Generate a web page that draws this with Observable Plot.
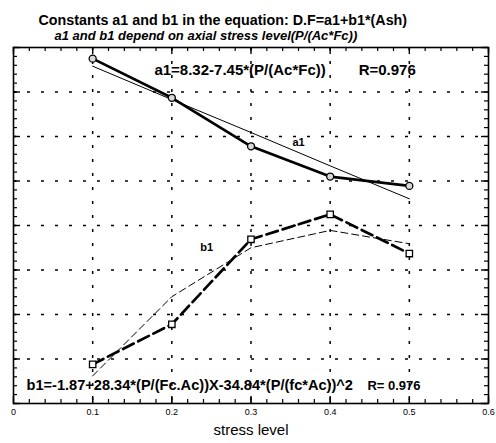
<!DOCTYPE html>
<html>
<head>
<meta charset="utf-8">
<script src="https://cdn.jsdelivr.net/npm/d3@7"></script>
<script src="https://cdn.jsdelivr.net/npm/@observablehq/plot@0.6"></script>
<style>
  html, body { margin: 0; padding: 0; background: #fff; }
  svg { font-family: "Liberation Sans", Arial, Helvetica, sans-serif; }
</style>
</head>
<body>
<div id="chart"></div>
<script>
// ---- data ----
const stress = [0.1, 0.2, 0.3, 0.4, 0.5];
const a1Data = [7.75, 6.87, 5.78, 5.10, 4.89];
const a1Fit  = [7.58, 6.83, 6.09, 5.34, 4.60];
const b1Data = [0.88, 1.78, 3.69, 4.25, 3.37];
const b1Fit  = [0.62, 2.40, 3.50, 3.89, 3.59];
const xTickLabels = [0, 0.1, 0.2, 0.3, 0.4, 0.5, 0.6];
const xGrid = [0.1, 0.2, 0.3, 0.4, 0.5];
const yGrid = [1, 2, 3, 4, 5, 6, 7];
const titleText = "Constants a1 and b1 in the equation: D.F=a1+b1*(Ash)";
const subtitleText = "a1 and b1 depend on axial stress level(P/(Ac*Fc))";
const a1Eq = "a1=8.32-7.45*(P/(Ac*Fc))";
const a1R = "R=0.976";
const b1Eq = "b1=-1.87+28.34*(P/(Fc.Ac))X-34.84*(P/(fc*Ac))^2";
const b1R = "R= 0.976";
const xLabel = "stress level";

const rows = (ys) => stress.map((x, i) => ({x, y: ys[i]}));
const xMinor = d3.range(0, 0.6001, 0.02).map(v => +v.toFixed(2));
const xMajor = xTickLabels;
const yMinor = d3.range(0, 8.001, 0.2).map(v => +v.toFixed(1));
const yMajor = d3.range(0, 9, 1);

const W = 496, H = 443;
const mT = 47, mB = 40, mL = 13, mR = 8;
const fw = W - mL - mR, fh = H - mT - mB;

const chart = Plot.plot({
  width: W, height: H,
  marginTop: mT, marginBottom: mB, marginLeft: mL, marginRight: mR,
  style: {background: "#fff", color: "black", fontFamily: "Liberation Sans, Arial, sans-serif"},
  x: {domain: [0, 0.6]},
  y: {domain: [0, 8]},
  marks: [
    Plot.gridX(xGrid, {stroke: "black", strokeOpacity: 1, strokeWidth: 1.5, strokeDasharray: "3,11"}),
    Plot.gridY(yGrid, {stroke: "black", strokeOpacity: 1, strokeWidth: 1.5, strokeDasharray: "3,11"}),
    // inward minor/major ticks on all four sides
    Plot.tickX(xMinor, {x: d => d, insetTop: fh - 4, strokeWidth: 1.2}),
    Plot.tickX(xMinor, {x: d => d, insetBottom: fh - 4, strokeWidth: 1.2}),
    Plot.tickX(xMajor, {x: d => d, insetTop: fh - 7, strokeWidth: 1.4}),
    Plot.tickX(xMajor, {x: d => d, insetBottom: fh - 7, strokeWidth: 1.4}),
    Plot.tickY(yMinor, {y: d => d, insetRight: fw - 4, strokeWidth: 1.2}),
    Plot.tickY(yMinor, {y: d => d, insetLeft: fw - 4, strokeWidth: 1.2}),
    Plot.tickY(yMajor, {y: d => d, insetRight: fw - 7, strokeWidth: 1.4}),
    Plot.tickY(yMajor, {y: d => d, insetLeft: fw - 7, strokeWidth: 1.4}),
    Plot.frame({stroke: "black", strokeWidth: 1.6}),
    Plot.axisX(xTickLabels, {tickSize: 0, tickPadding: 5, fontSize: 9, tickFormat: d => String(d), label: null}),
    Plot.axisY({ticks: [], label: null, tickSize: 0}),
    // series
    Plot.line(rows(a1Fit), {x: "x", y: "y", stroke: "black", strokeWidth: 1}),
    Plot.line(rows(a1Data), {x: "x", y: "y", stroke: "black", strokeWidth: 2.7}),
    Plot.line(rows(b1Fit), {x: "x", y: "y", stroke: "black", strokeWidth: 1, strokeDasharray: "7,4"}),
    Plot.line(rows(b1Data), {x: "x", y: "y", stroke: "black", strokeWidth: 2.7, strokeDasharray: "12,5"}),
    Plot.dot(rows(a1Data), {x: "x", y: "y", r: 3.5, stroke: "black", fill: "#d8d8d8", strokeWidth: 1.3}),
    Plot.dot(rows(b1Data), {x: "x", y: "y", symbol: "square", r: 3.6, stroke: "black", fill: "white", strokeWidth: 1.3}),
    // annotations
    Plot.text([a1Eq], {x: 0.178, y: 7.5, text: d => d, textAnchor: "start", fontSize: 15, fontWeight: "bold"}),
    Plot.text([a1R], {x: 0.436, y: 7.5, text: d => d, textAnchor: "start", fontSize: 15, fontWeight: "bold"}),
    Plot.text(["a1"], {x: 0.36, y: 5.87, text: d => d, fontSize: 11, fontWeight: "bold"}),
    Plot.text(["b1"], {x: 0.244, y: 3.5, text: d => d, fontSize: 11, fontWeight: "bold"}),
    Plot.text([b1Eq], {x: 0.0164, y: 0.40, text: d => d, textAnchor: "start", fontSize: 14.6, fontWeight: "bold"}),
    Plot.text([b1R], {x: 0.447, y: 0.40, text: d => d, textAnchor: "start", fontSize: 13, fontWeight: "bold"}),
    // titles and x label
    Plot.text([titleText], {frameAnchor: "top-left", dx: 25, dy: -33, text: d => d, textAnchor: "start", fontSize: 14.3, fontWeight: "bold"}),
    Plot.text([subtitleText], {frameAnchor: "top-left", dx: 41, dy: -17, text: d => d, textAnchor: "start", fontSize: 13, fontWeight: "bold", fontStyle: "italic"}),
    Plot.text([xLabel], {frameAnchor: "bottom", dy: 31, text: d => d, fontSize: 15})
  ]
});
document.getElementById("chart").appendChild(chart);
</script>
</body>
</html>
